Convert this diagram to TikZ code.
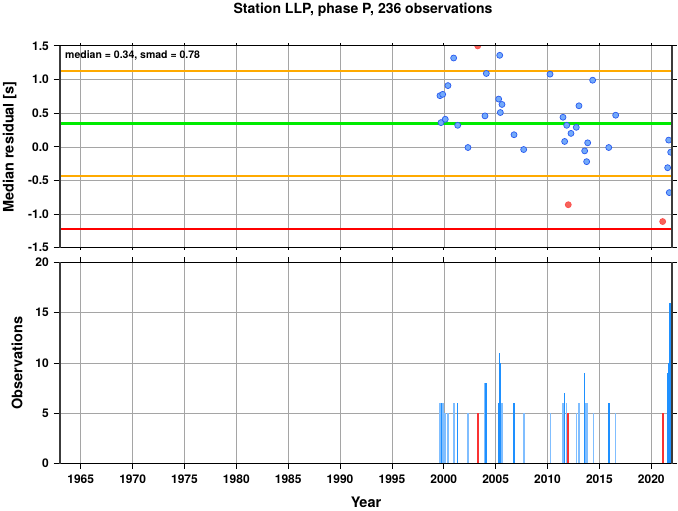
\documentclass[tikz,border=0pt]{standalone}
\usepackage{fontspec}
\setmainfont{TeX Gyre Heros}
\definecolor{dotblue}{RGB}{115,170,250}
\definecolor{dotedge}{RGB}{40,90,240}
\definecolor{dotred}{RGB}{245,100,90}
\definecolor{barlight}{RGB}{128,190,255}
\definecolor{bardark}{RGB}{30,144,255}
\definecolor{barred}{RGB}{250,50,50}
\definecolor{medgreen}{RGB}{0,235,0}
\definecolor{smadorange}{RGB}{255,170,0}
\definecolor{gridgray}{RGB}{165,165,165}
\definecolor{axisgray}{RGB}{60,60,60}
\begin{document}
\begin{tikzpicture}[x=1pt,y=1pt,
  gridline/.style={gridgray,line width=0.6pt},
  smadline/.style={smadorange,line width=2pt},
  medline/.style={medgreen,line width=3pt},
  outline/.style={red,line width=2.4pt},
  dot/.style={fill=dotblue,draw=dotedge,line width=0.7pt},
  reddot/.style={fill=dotred,draw=red!70,line width=0.7pt},
  sideaxis/.style={axisgray,line width=2.2pt},
  flataxis/.style={black,line width=1pt},
  tickmark/.style={black,line width=0.8pt},
  ticklabel/.style={font=\fontsize{12}{14}\selectfont\bfseries,inner sep=0pt},
  axislabel/.style={font=\fontsize{14.5}{17}\selectfont\bfseries,inner sep=0pt}]
  \useasboundingbox (0,0) rectangle (678,511);
  \node[font=\fontsize{14}{17}\selectfont\bfseries,anchor=base,inner sep=0pt] (title) at (363,497) {Station LLP, phase P, 236 observations};
  \node[axislabel,rotate=90,anchor=base] (resid) at (13.5,364) {Median residual [s]};
  \node[axislabel,rotate=90,anchor=base] (obs) at (22.5,148) {Observations};
  \node[axislabel,anchor=base] (year) at (366,3) {Year};
  \begin{scope}[shift={(60,364.15)},x=10.373pt,y=67.3pt]
    \foreach \yr in {2,7,...,57}
      \draw[gridline] (\yr,-1.5) -- (\yr,1.5);
    \foreach \v in {-1,-0.5,...,1}
      \draw[gridline] (0,\v) -- (59,\v);
    \draw[smadline] (0,1.12) -- (59,1.12) (0,-0.44) -- (59,-0.44);
    \draw[medline] (0,0.34) -- (59,0.34);
    \draw[outline] (0,-1.22) -- (59,-1.22);
    \begin{scope}
      \clip (0,-1.5) rectangle (59,1.5);
      \foreach \yr/\v in {2000.95/1.32,2005.39/1.36,2004.10/1.09,2010.24/1.08,2014.35/0.99,
        2000.40/0.91,1999.63/0.76,1999.89/0.78,2005.29/0.71,2005.61/0.63,2013.03/0.61,
        2003.97/0.46,2005.45/0.51,2011.49/0.44,2016.57/0.47,1999.73/0.36,2000.14/0.41,
        2001.34/0.32,2011.85/0.32,2012.77/0.29,2012.26/0.20,2006.77/0.18,2021.68/0.10,
        2011.65/0.08,2013.87/0.06,2002.33/-0.01,2007.70/-0.04,2015.90/-0.01,2013.58/-0.06,
        2021.87/-0.08,2013.77/-0.22,2021.58/-0.31,2021.74/-0.68}
        \filldraw[dot] (\yr-1963,\v) circle[radius=3pt];
      \foreach \yr/\v in {2003.27/1.5,2012.00/-0.86,2021.10/-1.11}
        \filldraw[reddot] (\yr-1963,\v) circle[radius=3pt];
    \end{scope}
    \foreach \yr in {2,7,...,57} {
      \draw[tickmark] (\yr,1.5) -- ([yshift=2.5pt]\yr,1.5);
      \draw[tickmark] (\yr,-1.5) -- ([yshift=-2.5pt]\yr,-1.5);
    }
    \foreach \v [count=\i] in {-1.5,-1.0,-0.5,0.0,0.5,1.0,1.5} {
      \draw[tickmark] ([xshift=-6.5pt]0,\v) -- (0,\v);
      \draw[tickmark] (59,\v) -- ([xshift=4.5pt]59,\v);
      \node[ticklabel,anchor=east] (rl\i) at ([xshift=-11pt]0,\v) {\v};
    }
    \draw[flataxis] (0,-1.5) -- (59,-1.5) (0,1.5) -- (59,1.5);
    \draw[sideaxis] (0,-1.5) -- (0,1.5) (59,-1.5) -- (59,1.5);
    \node[font=\fontsize{10.5}{12}\selectfont\bfseries,anchor=base west,inner sep=0pt] (stats)
      at ([xshift=5pt,yshift=-12.3pt]0,1.5) {median = 0.34, smad = 0.78};
  \end{scope}
  \begin{scope}[shift={(60,47.3)},x=10.373pt,y=10.07pt]
    \foreach \yr in {2,7,...,57}
      \draw[gridline] (\yr,0) -- (\yr,20);
    \foreach \n in {5,10,15}
      \draw[gridline] (0,\n) -- (59,\n);
    \foreach \yr/\n in {1999.62/6,1999.92/6,2000.14/5,2000.38/5,2000.98/6,2002.33/5,
      2003.92/8,2005.61/6,2007.73/5,2010.27/5,2011.49/6,2011.81/6,2012.81/5,2013.03/6,
      2013.72/6,2013.87/6,2014.41/5,2016.55/5}
      \fill[barlight] (\yr-1963-0.075,0) rectangle (\yr-1963+0.075,\n);
    \foreach \yr/\n in {1999.78/6,2001.32/6,2004.07/8,2005.27/6,2005.35/11,2005.45/10,
      2006.77/6,2011.65/7,2013.58/9,2015.90/6,2021.61/9,2021.71/10,2021.80/16,2021.93/6}
      \fill[bardark] (\yr-1963-0.075,0) rectangle (\yr-1963+0.075,\n);
    \foreach \yr in {2003.27,2012.00,2021.10}
      \fill[barred] (\yr-1963-0.085,0) rectangle (\yr-1963+0.085,5);
    \foreach \yr [count=\i] in {1965,1970,...,2020} {
      \draw[tickmark] (\yr-1963,20) -- ([yshift=5pt]\yr-1963,20);
      \draw[tickmark] (\yr-1963,0) -- ([yshift=-5pt]\yr-1963,0);
      \node[ticklabel,anchor=north] (yl\i) at ([yshift=-10.5pt]\yr-1963,0) {\yr};
    }
    \foreach \n [count=\i] in {0,5,10,15,20} {
      \draw[tickmark] ([xshift=-6.5pt]0,\n) -- (0,\n);
      \draw[tickmark] (59,\n) -- ([xshift=4.5pt]59,\n);
      \node[ticklabel,anchor=east] (ol\i) at ([xshift=-11pt]0,\n) {\n};
    }
    \draw[flataxis] (0,0) -- (59,0) (0,20) -- (59,20);
    \draw[sideaxis] (0,0) -- (0,20) (59,0) -- (59,20);
  \end{scope}
\end{tikzpicture}
\end{document}
